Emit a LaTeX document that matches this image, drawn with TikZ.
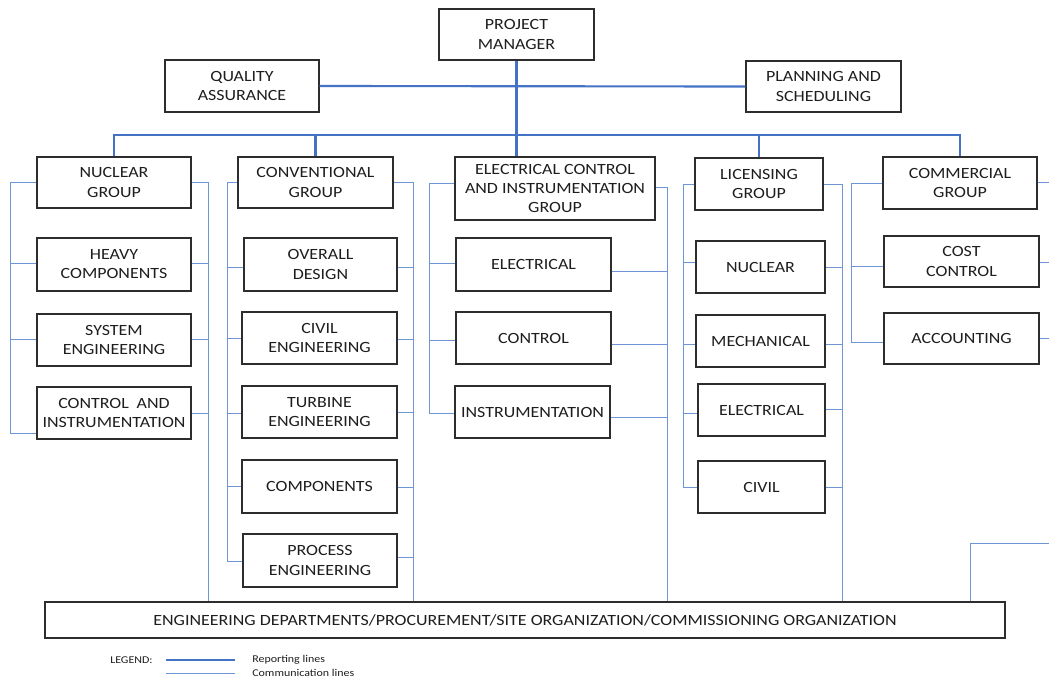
\documentclass[tikz,border=0pt]{standalone}
\usepackage{fontspec}
\setmainfont[FakeStretch=1.15]{Carlito}
\usetikzlibrary{calc}
\definecolor{repc}{RGB}{68,114,196}
\definecolor{comc}{RGB}{110,150,215}
\definecolor{boxc}{RGB}{45,45,45}
\definecolor{txtc}{RGB}{30,30,30}
\tikzset{
  box/.style={draw=boxc,line width=0.9pt,align=center,inner sep=0pt,text=txtc,
    font=\fontsize{11.7}{14.3}\selectfont},
  rep/.style={draw=repc,line width=1.6pt},
  comm/.style={draw=comc,line width=0.7pt},
  leg/.style={inner sep=0pt,text=txtc,font=\fontsize{7.8}{9}\selectfont},
}
\newcommand\bx[6]{%
  \pgfmathsetmacro\bw{(#4-#2)*0.75}\pgfmathsetmacro\bh{(#5-#3)*0.75}%
  \node[box,minimum width=\bw pt,minimum height=\bh pt] (#1) at ({(#2+#4)/2},{(#3+#5)/2}) {#6};}
\newcommand\lb[3]{\coordinate (tmp) at ($(#1.west)+(0,#3)$); \draw[comm] (tmp) -- (tmp -| #2);}
\newcommand\rb[3]{\coordinate (tmp) at ($(#1.east)+(0,#3)$); \draw[comm] (tmp) -- (tmp -| #2);}
\begin{document}
\begin{tikzpicture}[x=0.75pt,y=-0.75pt]
\fill[white] (0,0) rectangle (1049,679);
\useasboundingbox (0,0) rectangle (1049,679);
% top
\bx{pm}{439}{9}{594}{60}{PROJECT\\MANAGER}
\bx{qa}{165}{60}{319}{112}{QUALITY\\ASSURANCE}
\bx{ps}{746}{61}{901}{112}{PLANNING AND\\SCHEDULING}
% groups
\bx{ng}{37}{157}{191}{208}{NUCLEAR\\GROUP}
\bx{cg}{238}{157}{393}{208}{CONVENTIONAL\\GROUP}
\bx{eci}{455}{157}{655}{220}{ELECTRICAL CONTROL\\AND INSTRUMENTATION\\GROUP}
\bx{lg}{695}{158}{823}{210}{LICENSING\\GROUP}
\bx{comg}{883}{157}{1037}{209}{COMMERCIAL\\GROUP}
% nuclear
\bx{hc}{37}{238}{191}{291}{HEAVY\\COMPONENTS}
\bx{se}{37}{314}{191}{366}{SYSTEM\\ENGINEERING}
\bx{ci}{37}{387}{191}{439}{CONTROL\enspace AND\\INSTRUMENTATION}
% conventional
\bx{od}{244}{238}{397}{291}{OVERALL\\DESIGN}
\bx{ce}{242}{312}{397}{364}{CIVIL\\ENGINEERING}
\bx{te}{242}{386}{397}{438}{TURBINE\\ENGINEERING}
\bx{co}{242}{460}{397}{513}{COMPONENTS}
\bx{pe}{243}{534}{397}{587}{PROCESS\\ENGINEERING}
% eci
\bx{el}{456}{238}{611}{291}{ELECTRICAL}
\bx{ct}{456}{312}{611}{364}{CONTROL}
\bx{in}{455}{386}{610}{438}{INSTRUMENTATION}
% licensing
\bx{ln}{696}{241}{825}{293}{NUCLEAR}
\bx{lm}{696}{315}{825}{367}{MECHANICAL}
\bx{lel}{698}{384}{825}{436}{ELECTRICAL}
\bx{lc}{698}{461}{825}{513}{CIVIL}
% commercial
\bx{cc}{884}{236}{1039}{287}{COST\\CONTROL}
\bx{acc}{884}{313}{1039}{364}{ACCOUNTING}
% bottom
\bx{bot}{45}{602}{1005}{638}{ENGINEERING DEPARTMENTS/PROCUREMENT/SITE ORGANIZATION/COMMISSIONING ORGANIZATION}
% reporting lines
\coordinate (bus) at (0,135);
\draw[rep] (pm.south) -- (pm.south |- eci.north);
\draw[rep] (qa.east) -- (ps.west);
\draw[rep] (ng.north) -- (ng.north |- bus) -- (comg.north |- bus) -- (comg.north);
\draw[rep] (cg.north) -- (cg.north |- bus);
\draw[rep] (lg.north) -- (lg.north |- bus);
% nuclear communication
\coordinate (nLe) at (10,433);
\draw[comm] (ng.west) -| (nLe) -- (nLe -| ci.west);
\lb{hc}{nLe}{-1.5}
\lb{se}{nLe}{-1}
\coordinate (nRx) at (208,0);
\draw[comm] (ng.east) -| (nRx |- bot.north);
\rb{hc}{nRx}{-1.5}
\rb{se}{nRx}{-1}
\rb{ci}{nRx}{0}
% conventional communication
\coordinate (cLe) at (227,561);
\draw[comm] (cg.west) -| (cLe) -- (cLe -| pe.west);
\lb{od}{cLe}{2.5}
\lb{ce}{cLe}{0}
\lb{te}{cLe}{1}
\lb{co}{cLe}{0}
\coordinate (cRx) at (413,0);
\draw[comm] (cg.east) -| (cRx |- bot.north);
\rb{od}{cRx}{2.5}
\rb{ce}{cRx}{1}
\rb{te}{cRx}{0}
\rb{co}{cRx}{0.5}
\rb{pe}{cRx}{-3.5}
% eci communication
\coordinate (eLe) at (429,413);
\coordinate (eTop) at ($(eci.west)+(0,-5.5)$);
\draw[comm] (eTop) -| (eLe) -- (eLe -| in.west);
\lb{el}{eLe}{-1.5}
\lb{ct}{eLe}{2}
\coordinate (eRx) at (667,0);
\coordinate (eTopR) at ($(eci.east)+(0,-1.5)$);
\draw[comm] (eTopR) -| (eRx |- bot.north);
\rb{el}{eRx}{6.5}
\rb{ct}{eRx}{6}
\rb{in}{eRx}{5}
% licensing communication
\coordinate (lLe) at (683,487);
\draw[comm] (lg.west) -| (lLe) -- (lLe -| lc.west);
\lb{ln}{lLe}{-5}
\lb{lm}{lLe}{3}
\lb{lel}{lLe}{3}
\coordinate (lRx) at (842,0);
\draw[comm] (lg.east) -| (lRx |- bot.north);
\rb{ln}{lRx}{0}
\rb{lm}{lRx}{3}
\rb{lel}{lRx}{-1}
\rb{lc}{lRx}{0}
% commercial communication
\coordinate (kLe) at (851,342);
\draw[comm] (comg.west) -| (kLe) -- (kLe -| acc.west);
\lb{cc}{kLe}{4.5}
\coordinate (edge) at (1049,0);
\rb{comg}{edge}{-1}
\rb{cc}{edge}{0.5}
\rb{acc}{edge}{-0.5}
\coordinate (kR) at (1049,543);
\coordinate (kRx) at (970,0);
\draw[comm] (kR) -| (kRx |- bot.north);
% legend
\node[leg,anchor=west] (lgd) at (110,660) {LEGEND:};
\coordinate (l1a) at (166,660);
\coordinate (l1b) at (235,660);
\coordinate (l2a) at (166,673);
\coordinate (l2b) at (235,673);
\draw[rep,line width=1.2pt] (l1a) -- (l1b);
\draw[comm] (l2a) -- (l2b);
\node[leg,anchor=west] (lrep) at (252,660) {Reporting lines};
\node[leg,anchor=west] (lcom) at (252,673) {Communication lines};
\end{tikzpicture}
\end{document}
